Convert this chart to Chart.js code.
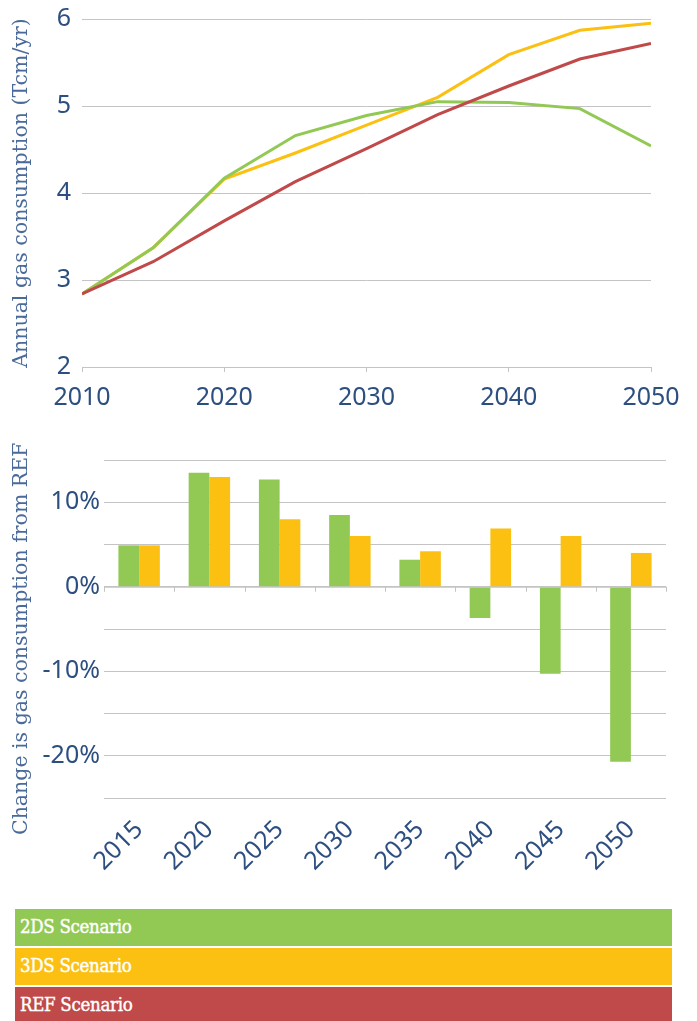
<!DOCTYPE html>
<html>
<head>
<meta charset="utf-8">
<script src="https://cdn.jsdelivr.net/npm/chart.js@4/dist/chart.umd.min.js"></script>
<style>
  body { margin: 0; background: #fff; width: 697px; height: 1021px; overflow: hidden; position: relative; }
  #top { position: absolute; left: 0; top: 0; }
  #bottom { position: absolute; left: 0; top: 430px; }
  #legend { position: absolute; left: 15px; top: 909px; width: 657px; }
  .item { height: 37px; margin-bottom: 2px; color: #fff; font-family: "DejaVu Serif Condensed", "DejaVu Serif", serif;
          font-size: 18.5px; letter-spacing: -0.3px; line-height: 35px; padding-left: 5px; box-sizing: border-box;
          -webkit-text-stroke: 0.4px #fff; }
</style>
</head>
<body>
<canvas id="top" width="697" height="420"></canvas>
<canvas id="bottom" width="697" height="460"></canvas>
<div id="legend"></div>
<script>
// Annual gas consumption (Tcm/yr)
const years = [2010, 2015, 2020, 2025, 2030, 2035, 2040, 2045, 2050];
const ds2 = [2.84, 3.37, 4.17, 4.66, 4.89, 5.05, 5.04, 4.97, 4.54];
const ds3 = [2.84, 3.37, 4.16, 4.46, 4.78, 5.10, 5.59, 5.87, 5.95];
const ref = [2.84, 3.21, 3.68, 4.13, 4.51, 4.90, 5.23, 5.54, 5.72];

// Change in gas consumption from REF (%)
const barYears = ['2015', '2020', '2025', '2030', '2035', '2040', '2045', '2050'];
const change2ds = [4.9, 13.5, 12.7, 8.5, 3.2, -3.7, -10.3, -20.7];
const change3ds = [4.9, 13.0, 8.0, 6.0, 4.2, 6.9, 6.0, 4.0];

const seriesNames = ['2DS Scenario', '3DS Scenario', 'REF Scenario'];
const colors = ['#92c954', '#fbc012', '#c0494a'];

const tickColor = '#2d4f80';
const titleColor = '#4a6a9a';
const gridColor = '#c4c4c4';
const tickFont = { family: 'Noto Sans', size: 25 };
const titleFont = { family: 'DejaVu Serif', size: 20.5 };

function line(label, data, color) {
  return { label: label, data: years.map((y, i) => ({ x: y, y: data[i] })), borderColor: color,
           borderWidth: 3, pointRadius: 0, tension: 0, fill: false };
}

new Chart(document.getElementById('top'), {
  type: 'line',
  data: { datasets: [line(seriesNames[2], ref, colors[2]), line(seriesNames[0], ds2, colors[0]), line(seriesNames[1], ds3, colors[1])] },
  options: {
    responsive: false, animation: false,
    layout: { padding: { top: 19, right: 46, left: 0, bottom: 0 } },
    plugins: { legend: { display: false }, tooltip: { enabled: false } },
    scales: {
      x: {
        type: 'linear', min: 2010, max: 2050,
        ticks: { stepSize: 10, color: tickColor, font: tickFont, padding: 11, maxRotation: 0, callback: v => String(v) },
        grid: { drawOnChartArea: false, tickLength: 5, color: gridColor },
        border: { color: gridColor },
        afterFit: s => { s.height = 53; }
      },
      y: {
        min: 2, max: 6,
        ticks: { stepSize: 1, color: tickColor, font: tickFont, padding: 11 },
        grid: { color: gridColor, drawTicks: false },
        border: { display: false },
        title: { display: true, text: 'Annual gas consumption (Tcm/yr)', color: titleColor, font: titleFont,
                 padding: { top: 9, bottom: 0 } },
        afterFit: s => { s.width = 82; s.paddingTop = 0; s.paddingBottom = 0; }
      }
    }
  }
});

// small tick marks along the zero line, at category boundaries
const zeroTicks = {
  id: 'zeroTicks',
  afterDatasetsDraw(chart) {
    const ctx = chart.ctx, x = chart.scales.x, y = chart.scales.y;
    const y0 = y.getPixelForValue(0);
    ctx.save();
    ctx.strokeStyle = gridColor;
    ctx.lineWidth = 1;
    ctx.beginPath();
    ctx.moveTo(chart.chartArea.left, y0 + 0.5);
    ctx.lineTo(chart.chartArea.right, y0 + 0.5);
    for (let i = 0; i <= barYears.length; i++) {
      const px = Math.round(x.getPixelForValue(i - 0.5)) + 0.5;
      ctx.moveTo(px, y0);
      ctx.lineTo(px, y0 + 5);
    }
    ctx.stroke();
    ctx.restore();
  }
};

new Chart(document.getElementById('bottom'), {
  type: 'bar',
  data: {
    labels: barYears,
    datasets: [
      { label: seriesNames[0], data: change2ds, backgroundColor: colors[0] },
      { label: seriesNames[1], data: change3ds, backgroundColor: colors[1] }
    ]
  },
  options: {
    responsive: false, animation: false,
    categoryPercentage: 0.59, barPercentage: 1,
    layout: { padding: { top: 30, right: 31, left: 0, bottom: 0 } },
    plugins: { legend: { display: false }, tooltip: { enabled: false } },
    scales: {
      x: {
        ticks: { color: tickColor, font: tickFont, minRotation: 45, maxRotation: 45, padding: 9 },
        grid: { display: false },
        border: { display: false },
        afterFit: s => { s.height = 92; }
      },
      y: {
        min: -25, max: 15,
        ticks: { stepSize: 5, color: tickColor, font: tickFont, padding: 4,
                 callback: v => (v % 10 === 0 ? v + '%' : '') },
        grid: { color: gridColor, drawTicks: false },
        border: { display: false },
        title: { display: true, text: 'Change is gas consumption from REF   ', color: titleColor, font: titleFont,
                 padding: { top: 9, bottom: 0 } },
        afterFit: s => { s.width = 104; s.paddingTop = 0; s.paddingBottom = 0; }
      }
    }
  },
  plugins: [zeroTicks]
});

const legend = document.getElementById('legend');
seriesNames.forEach((name, i) => {
  const d = document.createElement('div');
  d.className = 'item';
  d.style.background = colors[i];
  d.textContent = name;
  legend.appendChild(d);
});
</script>
</body>
</html>
